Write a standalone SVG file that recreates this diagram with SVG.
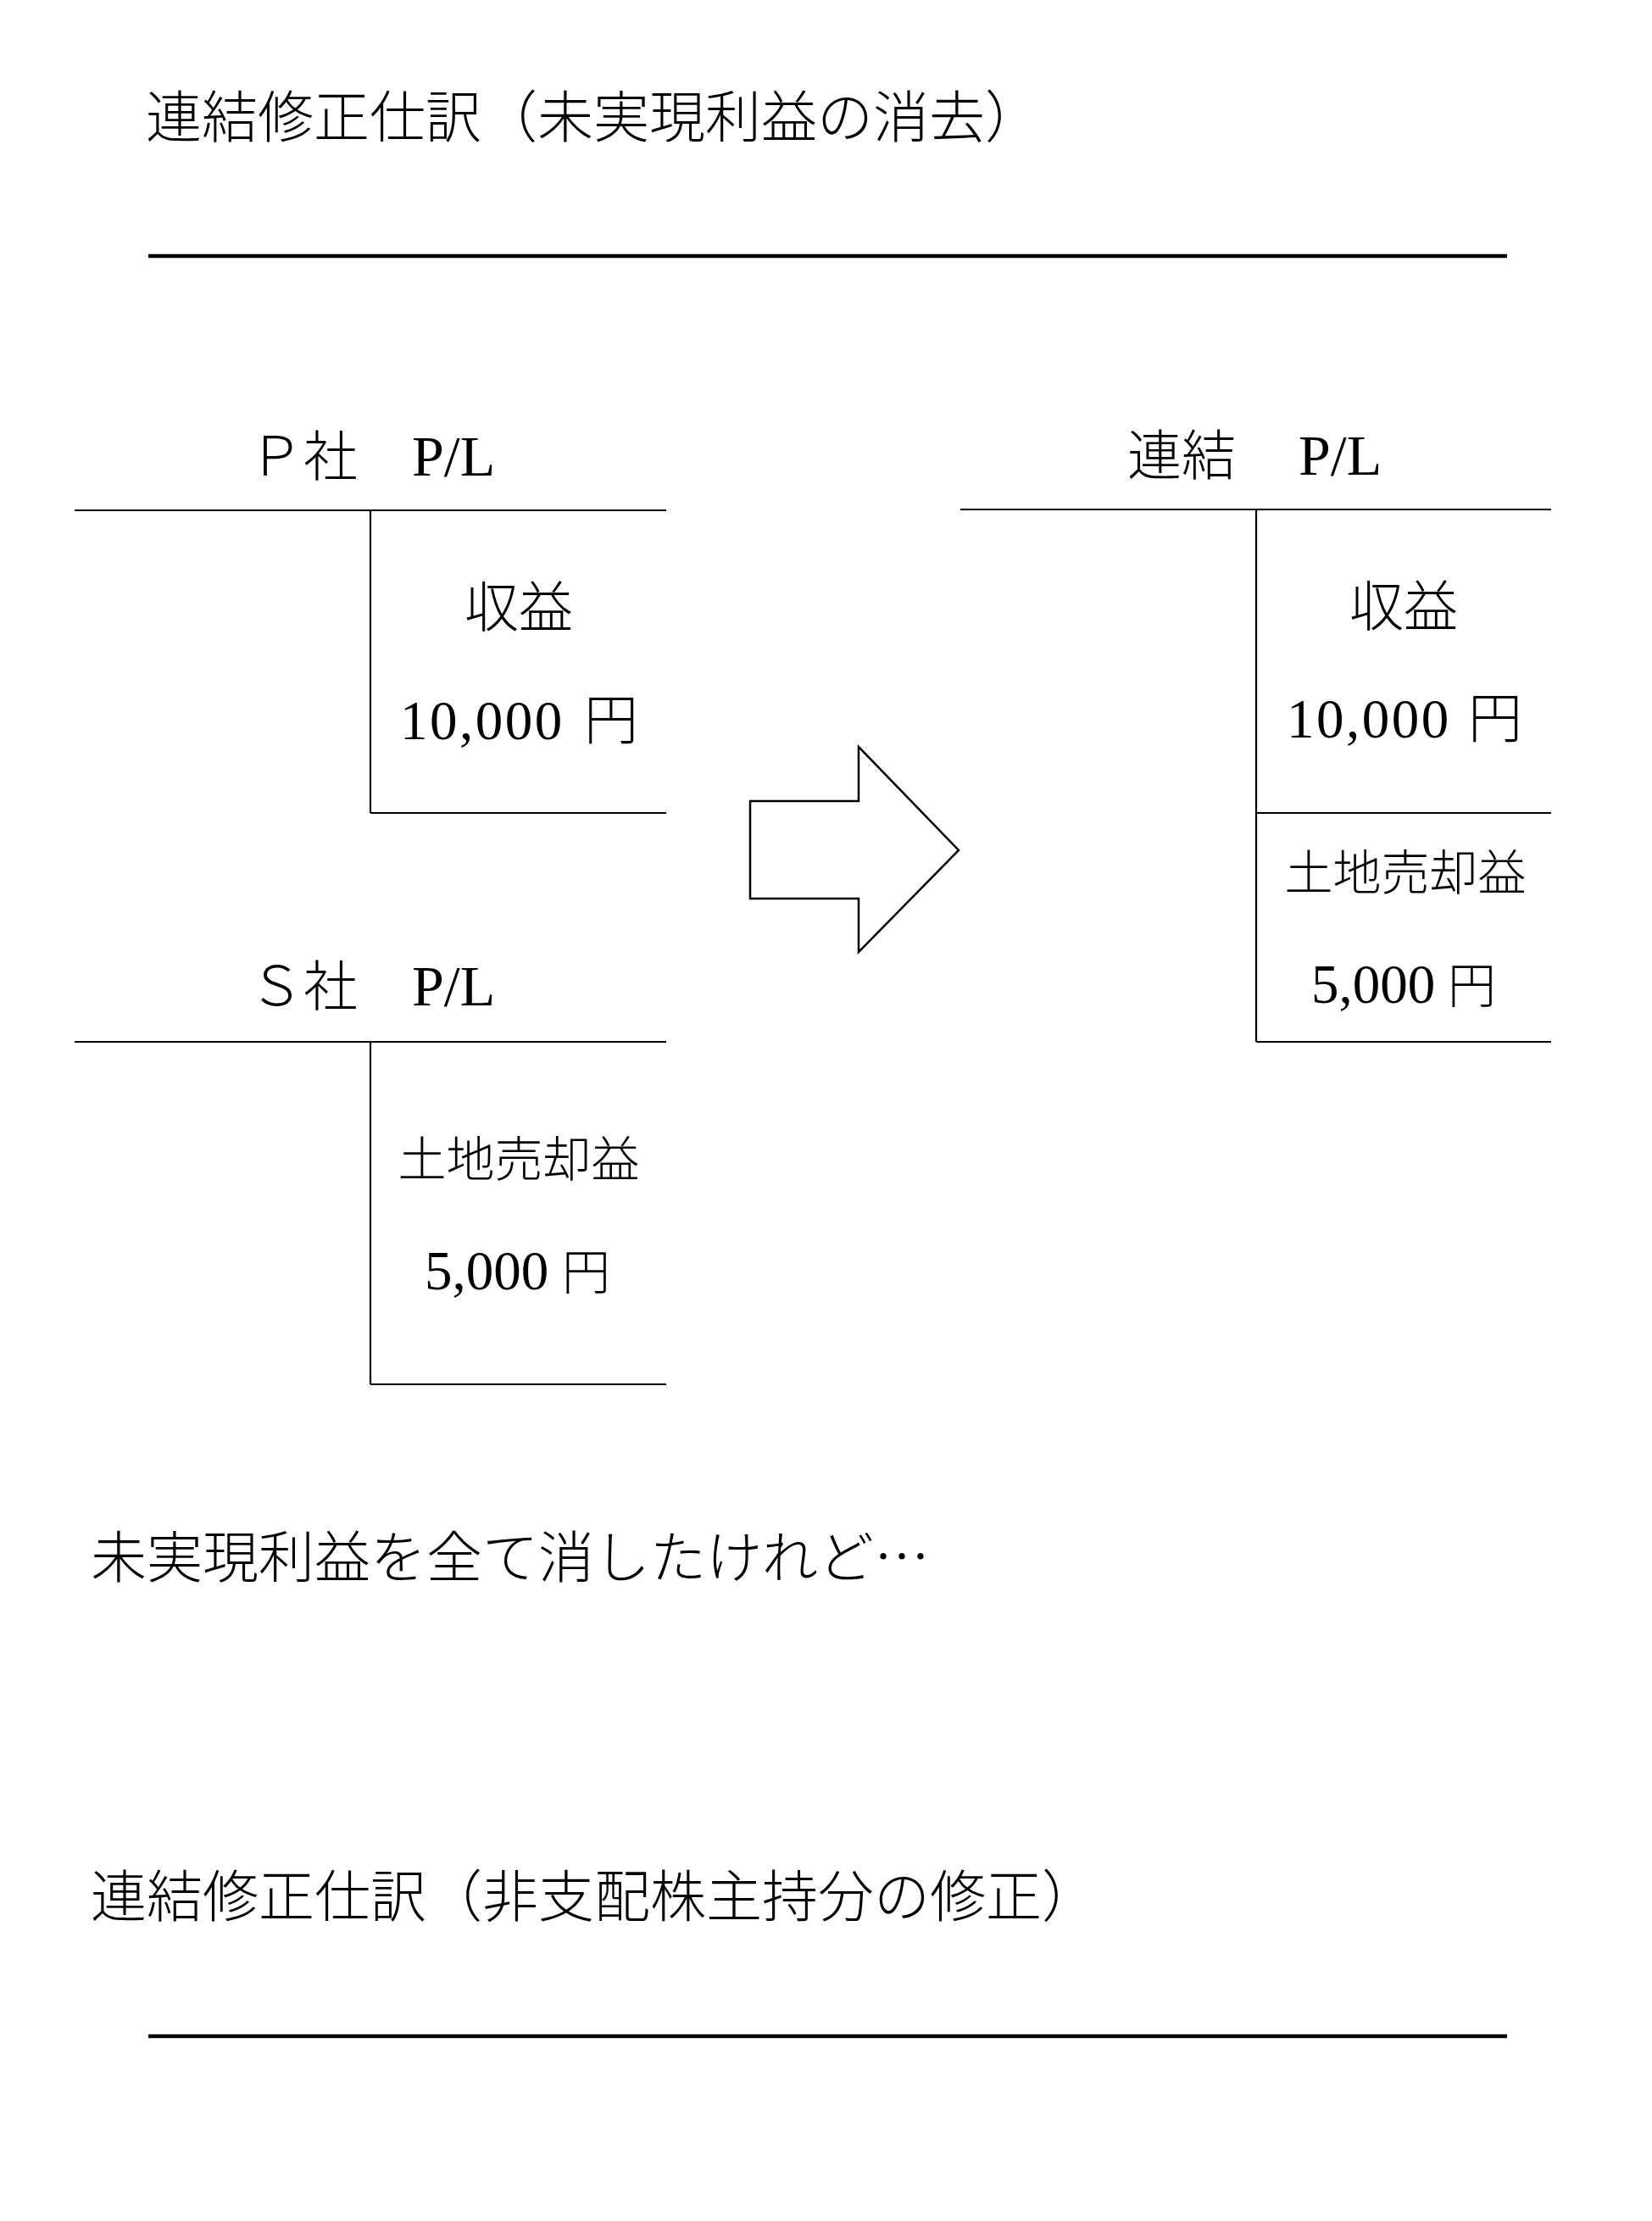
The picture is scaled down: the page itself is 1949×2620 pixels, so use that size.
<svg xmlns="http://www.w3.org/2000/svg" width="1949" height="2620" viewBox="0 0 1949 2620">
<style>
.bg{fill:#fff}
.t{font-family:"Liberation Serif","Noto Sans CJK JP",serif;fill:#000;font-weight:300}
.h{font-size:66px;font-family:"Noto Sans CJK JP","Liberation Serif",sans-serif}
.l{font-size:64px}
.s{font-size:57px}
.pl{font-size:68px}
.num{font-size:65px}
.rule{stroke:#000;stroke-width:4.5;fill:none}
.ln{stroke:#000;stroke-width:2.2;fill:none}
.arrow{stroke:#000;stroke-width:2.5;fill:#fff;stroke-linejoin:miter}
</style>
<rect class="bg" x="0" y="0" width="1949" height="2620"/>

<g id="title1">
<text class="t h" x="172" y="162">連結修正仕訳（未実現利益の消去）</text>
<line class="rule" x1="175" y1="302" x2="1778" y2="302"/>
</g>

<g id="p-pl">
<text class="t l" x="294" y="561">Ｐ社　<tspan class="pl" x="486">P/L</tspan></text>
<line class="ln" x1="88" y1="602" x2="786" y2="602"/>
<line class="ln" x1="437" y1="602" x2="437" y2="959"/>
<line class="ln" x1="437" y1="959" x2="786" y2="959"/>
<text class="t l" x="612" y="739" text-anchor="middle">収益</text>
<text class="t l" x="472" y="872"><tspan class="num" letter-spacing="2.5">10,000</tspan> <tspan x="689">円</tspan></text>
</g>

<g id="s-pl">
<text class="t l" x="294" y="1186">Ｓ社　<tspan class="pl" x="486">P/L</tspan></text>
<line class="ln" x1="88" y1="1229" x2="786" y2="1229"/>
<line class="ln" x1="437" y1="1229" x2="437" y2="1633"/>
<line class="ln" x1="437" y1="1633" x2="786" y2="1633"/>
<text class="t s" x="612" y="1388" text-anchor="middle">土地売却益</text>
<text class="t s" x="501" y="1521"><tspan class="num">5,000</tspan> <tspan x="663">円</tspan></text>
</g>

<g id="connectors">
<polygon id="arrow" class="arrow" points="885,945 1013,945 1013,881 1131,1003 1013,1123 1013,1060 885,1060"/>
</g>

<g id="consolidated-pl">
<text class="t l" x="1330" y="560">連結　<tspan class="pl" x="1532">P/L</tspan></text>
<line class="ln" x1="1133" y1="601" x2="1830" y2="601"/>
<line class="ln" x1="1482" y1="601" x2="1482" y2="1229"/>
<line class="ln" x1="1482" y1="959" x2="1830" y2="959"/>
<line class="ln" x1="1482" y1="1229" x2="1830" y2="1229"/>
<text class="t l" x="1656" y="738" text-anchor="middle">収益</text>
<text class="t l" x="1518" y="870"><tspan class="num" letter-spacing="2.5">10,000</tspan> <tspan x="1732">円</tspan></text>
<text class="t s" x="1658" y="1050" text-anchor="middle">土地売却益</text>
<text class="t s" x="1547" y="1183"><tspan class="num">5,000</tspan> <tspan x="1708">円</tspan></text>
</g>

<g id="note">
<text class="t h" x="107" y="1861">未実現利益を全て消したけれど…</text>
</g>

<g id="title2">
<text class="t h" x="107" y="2261">連結修正仕訳（非支配株主持分の修正）</text>
<line class="rule" x1="175" y1="2402" x2="1778" y2="2402"/>
</g>
</svg>
